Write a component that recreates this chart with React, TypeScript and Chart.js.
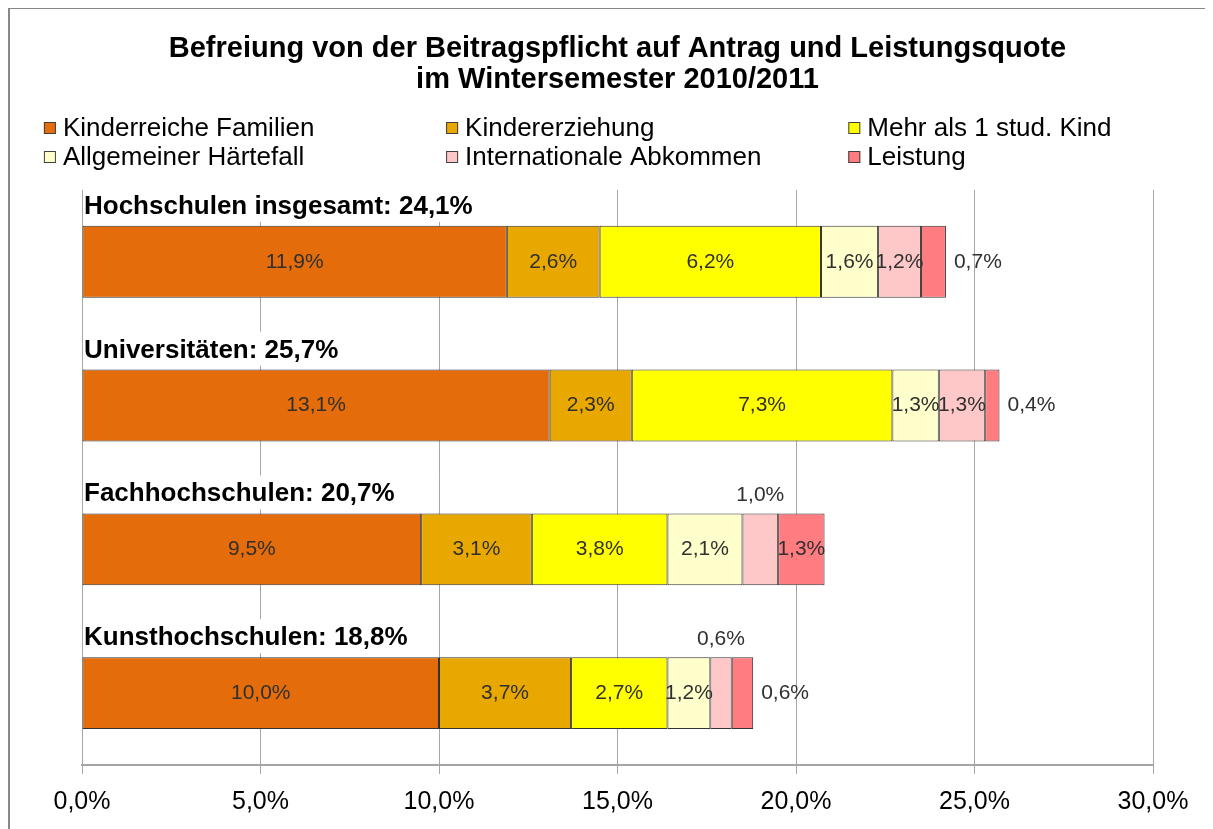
import React, { useEffect, useRef } from "react";
import { Chart, registerables } from "chart.js";

Chart.register(...registerables);

const categories = [
  "Hochschulen insgesamt: 24,1%",
  "Universitäten: 25,7%",
  "Fachhochschulen: 20,7%",
  "Kunsthochschulen: 18,8%",
];
const seriesNames = [
  "Kinderreiche Familien",
  "Kindererziehung",
  "Mehr als 1 stud. Kind",
  "Allgemeiner Härtefall",
  "Internationale Abkommen",
  "Leistung",
];
const kinderreicheFamilien = [11.9, 13.1, 9.5, 10.0];
const kindererziehung = [2.6, 2.3, 3.1, 3.7];
const mehrAls1StudKind = [6.2, 7.3, 3.8, 2.7];
const allgemeinerHaertefall = [1.6, 1.3, 2.1, 1.2];
const internationaleAbkommen = [1.2, 1.3, 1.0, 0.6];
const leistung = [0.7, 0.4, 1.3, 0.6];
const xMin = 0;
const xMax = 30;
const xStep = 5;
const titleLines = [
  "Befreiung von der Beitragspflicht auf Antrag und Leistungsquote",
  "im Wintersemester 2010/2011",
];

const seriesValues = [
  kinderreicheFamilien,
  kindererziehung,
  mehrAls1StudKind,
  allgemeinerHaertefall,
  internationaleAbkommen,
  leistung,
];
const seriesColors = ["#E46C0A", "#E8A800", "#FFFF00", "#FFFFCC", "#FFC8C8", "#FF7C80"];

const FONT = "'Liberation Sans', Arial, sans-serif";
const fmt = (v: number) => v.toFixed(1).replace(".", ",") + "%";

const overlayPlugin = {
  id: "overlay",
  afterDatasetsDraw(chart: any) {
    const ctx = chart.ctx;
    const area = chart.chartArea;
    ctx.save();
    // data labels
    ctx.font = `21px ${FONT}`;
    ctx.fillStyle = "#303030";
    chart.data.datasets.forEach((ds: any, di: number) => {
      const meta = chart.getDatasetMeta(di);
      meta.data.forEach((el: any, ci: number) => {
        const p = el.getProps(["x", "y", "base", "height"], true);
        const v = ds.data[ci];
        const left = Math.min(p.x, p.base);
        const right = Math.max(p.x, p.base);
        const txt = fmt(v);
        ctx.textBaseline = "middle";
        if (di === 5 && v < 1.0) {
          ctx.textAlign = "left";
          ctx.fillText(txt, right + 8, p.y);
        } else if (di === 4 && v <= 1.0) {
          ctx.textAlign = "center";
          ctx.fillText(txt, (left + right) / 2, p.y - p.height / 2 - 18);
        } else {
          ctx.textAlign = "center";
          ctx.fillText(txt, (left + right) / 2, p.y);
        }
      });
    });
    // category labels above bars
    const meta0 = chart.getDatasetMeta(0);
    ctx.font = `bold 26px ${FONT}`;
    ctx.textAlign = "left";
    ctx.textBaseline = "alphabetic";
    chart.data.labels.forEach((lab: string, ci: number) => {
      const el = meta0.data[ci];
      const p = el.getProps(["y", "height"], true);
      const top = p.y - p.height / 2;
      const w = ctx.measureText(lab).width;
      ctx.fillStyle = "#FFFFFF";
      ctx.fillRect(area.left + 1, top - 38, w + 6, 34);
      ctx.fillStyle = "#000000";
      ctx.fillText(lab, area.left + 2, top - 12);
    });
    // legend
    const cols = [0.030, 0.366, 0.702];
    const rows = [120, 149];
    ctx.font = `26px ${FONT}`;
    ctx.textBaseline = "middle";
    chart.data.datasets.forEach((ds: any, di: number) => {
      const x = chart.width * cols[di % 3];
      const y = rows[Math.floor(di / 3)];
      ctx.fillStyle = ds.backgroundColor;
      ctx.fillRect(x, y - 6, 12, 12);
      ctx.strokeStyle = "#404040";
      ctx.lineWidth = 1;
      ctx.strokeRect(x + 0.5, y - 5.5, 11, 11);
      ctx.fillStyle = "#000000";
      ctx.textAlign = "left";
      ctx.fillText(ds.label, x + 19, y + 1);
    });
    ctx.restore();
  },
};

export default function App() {
  const ref = useRef<HTMLCanvasElement | null>(null);
  useEffect(() => {
    if (!ref.current) return;
    const chart = new Chart(ref.current, {
      type: "bar",
      data: {
        labels: categories,
        datasets: seriesNames.map((name, i) => ({
          label: name,
          data: seriesValues[i],
          backgroundColor: seriesColors[i],
          borderColor: "#333333",
          borderWidth: 1,
          borderSkipped: false,
          categoryPercentage: 1,
          barPercentage: 0.5,
        })),
      },
      options: {
        indexAxis: "y",
        responsive: true,
        maintainAspectRatio: false,
        animation: false,
        layout: { padding: { left: 74, right: 52, top: 0, bottom: 1 } },
        scales: {
          x: {
            stacked: true,
            min: xMin,
            max: xMax,
            ticks: {
              stepSize: xStep,
              callback: (v: any) => fmt(Number(v)),
              font: { family: FONT, size: 25 },
              color: "#000000",
              padding: 13,
              maxRotation: 0,
            },
            grid: { color: "#A6A6A6", lineWidth: 1, tickLength: 9, drawTicks: true },
            border: { display: true, color: "#A6A6A6", width: 2 },
          },
          y: { stacked: true, display: false },
        },
        plugins: {
          legend: { display: false },
          tooltip: { enabled: false },
          title: {
            display: true,
            text: titleLines,
            color: "#000000",
            font: { family: FONT, size: 29, weight: "bold", lineHeight: 1.05 },
            padding: { top: 26, bottom: 95 },
          },
        },
      },
      plugins: [overlayPlugin],
    } as any);
    return () => chart.destroy();
  }, []);
  return (
    <div style={{ position: "relative", width: "1197px", height: "823px" }}>
      <div
        style={{
          position: "absolute",
          top: "-2px",
          left: "-1px",
          width: "1210px",
          height: "830px",
          borderTop: "3px solid #888888",
          borderLeft: "3px solid #888888",
          boxSizing: "border-box",
          pointerEvents: "none",
        }}
      />
      <canvas ref={ref} />
    </div>
  );
}
